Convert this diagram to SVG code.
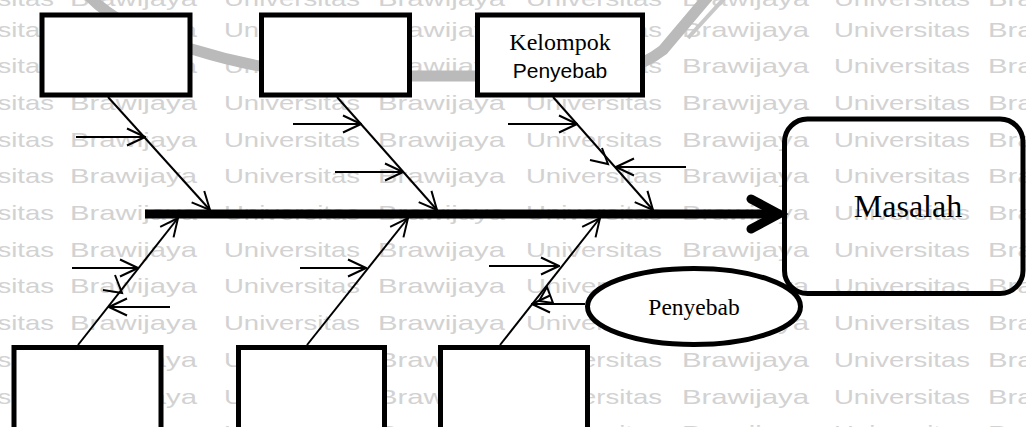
<svg xmlns="http://www.w3.org/2000/svg" xmlns:xlink="http://www.w3.org/1999/xlink" width="1026" height="427" viewBox="0 0 1026 427">
  <style>
    .wm { font-family: "Liberation Sans", Arial, sans-serif; font-size: 21px; fill: #d2d2d2; }
    .box { fill: #fff; stroke: #000; stroke-width: 5; }
    .bone { fill: none; stroke: #000; stroke-width: 2; }
    .tick { fill: none; stroke: #000; stroke-width: 2; stroke-linejoin: miter; }
    .serif { font-family: "Liberation Serif", "Times New Roman", serif; fill: #000; text-anchor: middle; }
    .sans { font-family: "Liberation Sans", Arial, sans-serif; fill: #000; text-anchor: middle; }
  </style>
  <defs>
    <marker id="ah" viewBox="0 0 20 20" refX="19" refY="10" markerWidth="20" markerHeight="20" markerUnits="userSpaceOnUse" orient="auto">
      <path d="M1,1.5 L19,10 L1,18.5" fill="none" stroke="#000" stroke-width="2"/>
    </marker>
    <!-- one row of the background lettering -->
    <g id="wm-row" class="wm">
      <text x="-82" y="0" textLength="136" lengthAdjust="spacingAndGlyphs">Universitas</text>
      <text x="70" y="0" textLength="127" lengthAdjust="spacingAndGlyphs">Brawijaya</text>
      <text x="224" y="0" textLength="136" lengthAdjust="spacingAndGlyphs">Universitas</text>
      <text x="378" y="0" textLength="127" lengthAdjust="spacingAndGlyphs">Brawijaya</text>
      <text x="526" y="0" textLength="136" lengthAdjust="spacingAndGlyphs">Universitas</text>
      <text x="682" y="0" textLength="127" lengthAdjust="spacingAndGlyphs">Brawijaya</text>
      <text x="834" y="0" textLength="136" lengthAdjust="spacingAndGlyphs">Universitas</text>
      <text x="988" y="0" textLength="127" lengthAdjust="spacingAndGlyphs">Brawijaya</text>
    </g>
  </defs>

  <rect width="1026" height="427" fill="#fff"/>

  <!-- background lettering -->
  <g id="background">
    <use xlink:href="#wm-row" y="6"/>
    <use xlink:href="#wm-row" y="37"/>
    <use xlink:href="#wm-row" y="73"/>
    <use xlink:href="#wm-row" y="110"/>
    <use xlink:href="#wm-row" y="147"/>
    <use xlink:href="#wm-row" y="183"/>
    <use xlink:href="#wm-row" y="220"/>
    <use xlink:href="#wm-row" y="257"/>
    <use xlink:href="#wm-row" y="293"/>
    <use xlink:href="#wm-row" y="330"/>
    <use xlink:href="#wm-row" y="367"/>
    <use xlink:href="#wm-row" y="404"/>
    <use xlink:href="#wm-row" y="440"/>
    <!-- grey swoosh of the emblem -->
    <path d="M85,-8 C110,20 150,38 195,50 C240,64 290,74 350,76 L560,76 C610,76 640,68 663,50 L712,-8" fill="none" stroke="#bababa" stroke-width="11"/>
    <path d="M688,38 L730,-8" fill="none" stroke="#c8c8c8" stroke-width="4"/>
  </g>

  <!-- connectors: spine, bones and sub-cause arrows -->
  <g id="connectors">
    <line x1="145" y1="214" x2="776" y2="214" stroke="#000" stroke-width="9"/>
    <polyline points="751,199 779,214 751,229" fill="none" stroke="#000" stroke-width="9" stroke-linecap="round" stroke-linejoin="miter"/>

    <line class="bone" x1="108" y1="97" x2="210" y2="210" marker-end="url(#ah)"/>
    <line class="bone" x1="337" y1="97" x2="437" y2="210" marker-end="url(#ah)"/>
    <line class="bone" x1="553" y1="97" x2="653" y2="210" marker-end="url(#ah)"/>

    <line class="bone" x1="78" y1="345" x2="178" y2="218" marker-end="url(#ah)"/>
    <line class="bone" x1="307" y1="345" x2="408" y2="218" marker-end="url(#ah)"/>
    <line class="bone" x1="500" y1="345" x2="600" y2="218" marker-end="url(#ah)"/>

    <line class="bone" x1="76" y1="137" x2="145" y2="137" marker-end="url(#ah)"/>
    <line class="bone" x1="293" y1="124" x2="361" y2="124" marker-end="url(#ah)"/>
    <line class="bone" x1="335" y1="172" x2="403" y2="172" marker-end="url(#ah)"/>
    <line class="bone" x1="508" y1="124" x2="577" y2="124" marker-end="url(#ah)"/>
    <line class="bone" x1="686" y1="167" x2="616" y2="167" marker-end="url(#ah)"/>
    <polyline class="tick" points="590,160 608,164 602,148"/>

    <line class="bone" x1="72" y1="268" x2="138" y2="268" marker-end="url(#ah)"/>
    <line class="bone" x1="170" y1="307" x2="109" y2="307" marker-end="url(#ah)"/>
    <polyline class="tick" points="103,290 122,293 115,275"/>
    <line class="bone" x1="300" y1="268" x2="366" y2="268" marker-end="url(#ah)"/>
    <line class="bone" x1="489" y1="266" x2="559" y2="266" marker-end="url(#ah)"/>
    <line class="bone" x1="585" y1="304" x2="532" y2="304" marker-end="url(#ah)"/>
    <polygon class="tick" points="547,287 553,303 539,301"/>
  </g>

  <!-- category boxes above the spine -->
  <g id="cat-top-1"><rect class="box" x="42" y="15" width="148" height="80"/></g>
  <g id="cat-top-2"><rect class="box" x="261.5" y="15" width="148" height="80"/></g>
  <g id="cat-top-3">
    <rect class="box" x="477.5" y="15" width="165" height="80"/>
    <text class="serif" x="560" y="50" font-size="24">Kelompok</text>
    <text class="sans" x="560" y="78" font-size="21">Penyebab</text>
  </g>

  <!-- category boxes below the spine -->
  <g id="cat-bottom-1"><rect class="box" x="14" y="347.5" width="147" height="95"/></g>
  <g id="cat-bottom-2"><rect class="box" x="238.5" y="347.5" width="146" height="95"/></g>
  <g id="cat-bottom-3"><rect class="box" x="440.5" y="347.5" width="147" height="95"/></g>

  <!-- cause bubble -->
  <g id="cause">
    <ellipse cx="694" cy="306.5" rx="106.5" ry="38" fill="#fff" stroke="#000" stroke-width="5"/>
    <text class="serif" x="694" y="315" font-size="23.5">Penyebab</text>
  </g>

  <!-- problem (head of the fish) -->
  <g id="problem">
    <rect x="784.5" y="119" width="238.5" height="174.5" rx="23" ry="23" fill="none" stroke="#000" stroke-width="5"/>
    <text class="serif" x="908" y="217" font-size="32">Masalah</text>
  </g>
</svg>
